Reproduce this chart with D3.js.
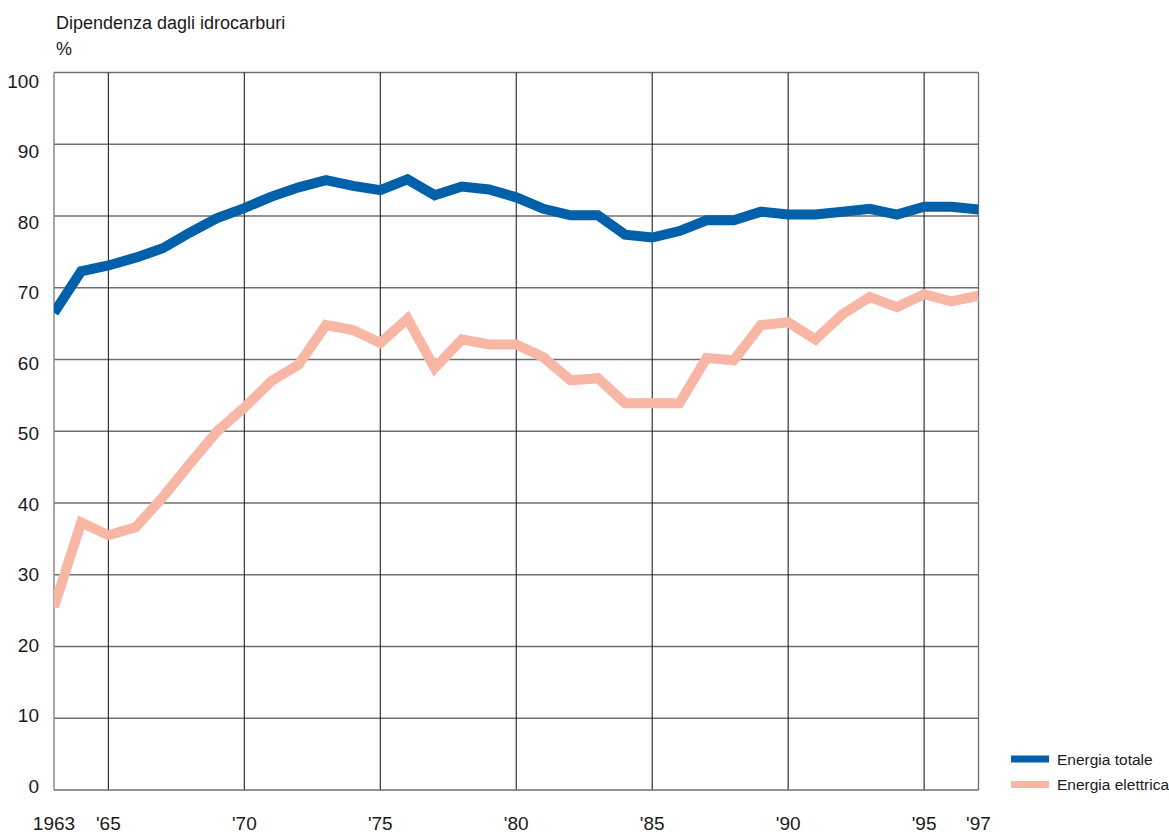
<!DOCTYPE html>
<html>
<head>
<meta charset="utf-8">
<script src="https://cdn.jsdelivr.net/npm/d3@7"></script>
<style>
  html, body { margin: 0; padding: 0; background: #fff; }
  svg text { font-family: "Liberation Sans Narrow", "Arial Narrow", "Liberation Sans", sans-serif; fill: #1a1a1a; }
</style>
</head>
<body>
<svg id="chart" width="1169" height="834"></svg>
<script>
const years = d3.range(1963, 1998);
const energiaTotale = [66.5, 72.3, 73.1, 74.2, 75.5, 77.7, 79.7, 81.1, 82.7, 84.0, 85.0, 84.2, 83.6, 85.1, 82.9, 84.1, 83.7, 82.6, 81.0, 80.1, 80.1, 77.4, 77.0, 77.9, 79.4, 79.4, 80.6, 80.2, 80.2, 80.6, 81.0, 80.2, 81.3, 81.3, 80.9];
const energiaElettrica = [25.5, 37.3, 35.5, 36.6, 40.8, 45.5, 50.0, 53.3, 57.0, 59.3, 64.8, 64.1, 62.3, 65.7, 58.8, 62.8, 62.1, 62.1, 60.3, 57.1, 57.4, 53.9, 53.9, 53.9, 60.2, 59.9, 64.8, 65.2, 62.8, 66.3, 68.7, 67.3, 69.1, 68.1, 68.9];
const xTicks = [1963, 1965, 1970, 1975, 1980, 1985, 1990, 1995, 1997];
const xTickLabels = ["1963", "'65", "'70", "'75", "'80", "'85", "'90", "'95", "'97"];
const xGrid = [1965, 1970, 1975, 1980, 1985, 1990, 1995];
const yTicks = [0, 10, 20, 30, 40, 50, 60, 70, 80, 90, 100];
const seriesNames = ["Energia totale", "Energia elettrica"];
const seriesColors = ["#0060aa", "#f8b6a4"];
const title = "Dipendenza dagli idrocarburi";
const unit = "%";

const svg = d3.select("#chart");
const pLeft = 54, pRight = 978.5, pTop = 72.5, pBottom = 790;

const x = d3.scaleLinear().domain([1963, 1997]).range([pLeft, pRight]);
const y = d3.scaleLinear().domain([0, 100]).range([pBottom, pTop]);
// label placement (labels in the original are spread slightly tighter than gridlines)
const yLab = d3.scaleLinear().domain([0, 100]).range([786, 81.5]);

// horizontal grid
svg.append("g").selectAll("line").data(yTicks.filter(d => d > 0)).join("line")
  .attr("x1", pLeft).attr("x2", pRight)
  .attr("y1", d => y(d)).attr("y2", d => y(d))
  .attr("stroke", "#6e6e6e").attr("stroke-width", 1.3);

// vertical grid
svg.append("g").selectAll("line").data(xGrid).join("line")
  .attr("x1", d => x(d)).attr("x2", d => x(d))
  .attr("y1", pTop).attr("y2", pBottom)
  .attr("stroke", "#222").attr("stroke-width", 1.1);

// right border
svg.append("line").attr("x1", pRight).attr("x2", pRight).attr("y1", pTop).attr("y2", pBottom)
  .attr("stroke", "#6e6e6e").attr("stroke-width", 1.3);
// left axis
svg.append("line").attr("x1", pLeft).attr("x2", pLeft).attr("y1", pTop).attr("y2", pBottom)
  .attr("stroke", "#8a8a8a").attr("stroke-width", 1.5);
// bottom axis
svg.append("line").attr("x1", pLeft).attr("x2", pRight).attr("y1", pBottom).attr("y2", pBottom)
  .attr("stroke", "#6e6e6e").attr("stroke-width", 1.5);

// clip
svg.append("clipPath").attr("id", "plotclip").append("rect")
  .attr("x", pLeft).attr("y", pTop - 10).attr("width", pRight - pLeft).attr("height", pBottom - pTop + 10);

const line = d3.line().x((d, i) => x(years[i])).y(d => y(d));
const plot = svg.append("g").attr("clip-path", "url(#plotclip)");
[[energiaElettrica, seriesColors[1]], [energiaTotale, seriesColors[0]]].forEach(([s, c]) => {
  plot.append("path").datum(s)
    .attr("d", line)
    .attr("fill", "none")
    .attr("stroke", c)
    .attr("stroke-width", 10)
    .attr("stroke-linejoin", "miter");
});

// y labels
svg.append("g").selectAll("text").data(yTicks).join("text")
  .attr("x", 39).attr("y", d => yLab(d))
  .attr("text-anchor", "end")
  .attr("dominant-baseline", "central")
  .attr("font-size", 19)
  .text(d => d);

// x labels
svg.append("g").selectAll("text").data(xTicks).join("text")
  .attr("x", d => x(d)).attr("y", 830)
  .attr("text-anchor", "middle")
  .attr("font-size", 19)
  .text((d, i) => xTickLabels[i]);

// title
svg.append("text").attr("x", 56).attr("y", 29).attr("font-size", 18).text(title);
svg.append("text").attr("x", 56).attr("y", 55).attr("font-size", 18).text(unit);

// legend
const legend = svg.append("g");
seriesNames.forEach((n, i) => {
  const ly = 759 + i * 25.5;
  legend.append("line").attr("x1", 1011).attr("x2", 1049).attr("y1", ly).attr("y2", ly)
    .attr("stroke", seriesColors[i]).attr("stroke-width", 7);
  legend.append("text").attr("x", 1057).attr("y", ly).attr("dominant-baseline", "central")
    .attr("font-size", 15.5).text(n);
});
</script>
</body>
</html>
